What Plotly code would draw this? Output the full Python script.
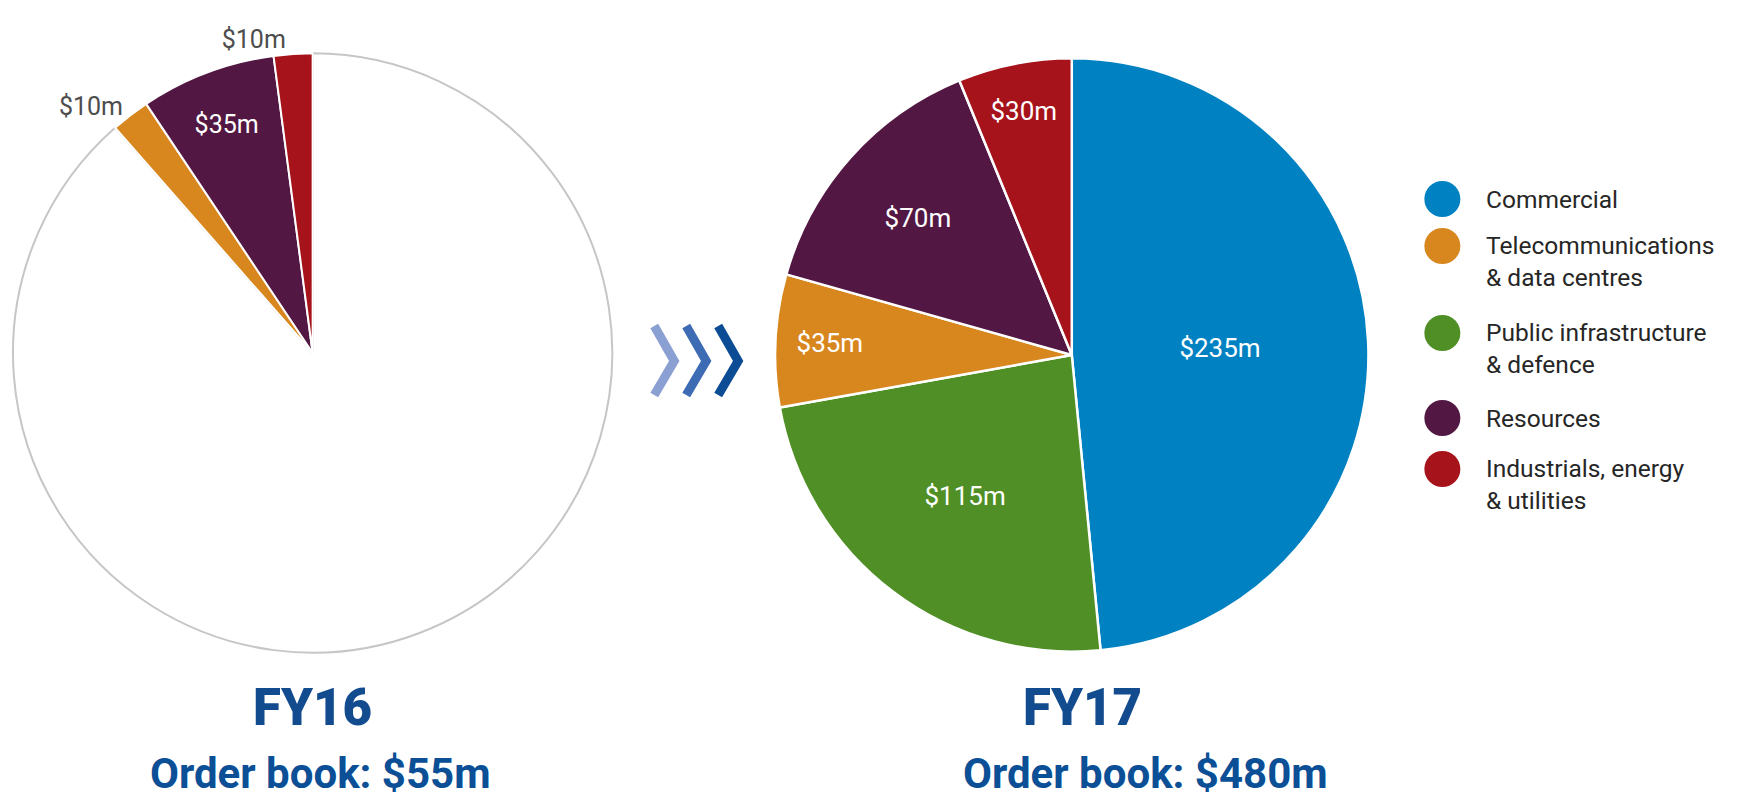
import plotly.graph_objects as go

# ---------------- data ----------------
segments = ["Commercial", "Telecommunications & data centres",
            "Public infrastructure & defence", "Resources",
            "Industrials, energy & utilities"]
legend_text = ["Commercial", "Telecommunications<br>& data centres",
               "Public infrastructure<br>& defence", "Resources",
               "Industrials, energy<br>& utilities"]
segment_colors = ["#0081c2", "#d8871f", "#4f8f25", "#521843", "#a6131b"]

fy16_labels = ["Not yet secured", "Telecommunications & data centres",
               "Resources", "Industrials, energy & utilities"]
fy16_values = [425, 10, 35, 10]
fy16_text = ["", "$10m", "$35m", "$10m"]

fy17_labels = ["Commercial", "Public infrastructure & defence",
               "Telecommunications & data centres", "Resources",
               "Industrials, energy & utilities"]
fy17_values = [235, 115, 35, 70, 30]
fy17_text = ["$235m", "$115m", "$35m", "$70m", "$30m"]

year_titles = ["FY16", "FY17"]
order_book = ["Order book: $55m", "Order book: $480m"]

# ---------------- style ----------------
W, H = 1740, 798
OFF = 8  # page body margin compensation
color_map = dict(zip(segments, segment_colors))
color_map["Not yet secured"] = "#ffffff"
label_font = "Roboto, 'Noto Sans', sans-serif"
title_font = "Roboto, 'Liberation Sans', sans-serif"
navy = "#124b8e"


def dom(cx, cy, r):
    cx -= OFF
    cy -= OFF
    return dict(x=[(cx - r) / W, (cx + r) / W],
                y=[1 - (cy + r) / H, 1 - (cy - r) / H])


fig = go.Figure()

fig.add_trace(go.Pie(
    labels=fy16_labels, values=fy16_values, text=fy16_text,
    textinfo="text", textposition=["none", "outside", "inside", "outside"],
    sort=False, direction="clockwise", rotation=0,
    marker=dict(colors=[color_map[l] for l in fy16_labels],
                line=dict(color=["#c6c6c6", "white", "white", "white"],
                          width=[2, 2, 2, 2])),
    insidetextorientation="horizontal",
    insidetextfont=dict(color="white", size=25, family=label_font),
    outsidetextfont=dict(color="#4d4d4d", size=25, family=label_font),
    domain=dom(311, 353, 300), showlegend=False, hoverinfo="label+value",
))

fig.add_trace(go.Pie(
    labels=fy17_labels, values=fy17_values, text=fy17_text,
    textinfo="text", textposition="inside",
    sort=False, direction="clockwise", rotation=0,
    marker=dict(colors=[color_map[l] for l in fy17_labels],
                line=dict(color="white", width=2.5)),
    insidetextorientation="horizontal",
    insidetextfont=dict(color="white", size=26, family=label_font),
    domain=dom(1071, 355, 297), showlegend=False, hoverinfo="label+value",
))

# legend drawn as a marker column on a hidden pixel-scaled axis
legend_x = 1442
legend_y = [199, 246, 333, 418, 469]
fig.add_trace(go.Scatter(
    x=[legend_x] * len(segments), y=legend_y, mode="markers",
    marker=dict(size=36, color=segment_colors, line=dict(width=0)),
    showlegend=False, hovertext=segments, hoverinfo="text",
))

annotations = []
fs = 24.5
lh = 1.3 * fs
for txt, y in zip(legend_text, legend_y):
    n = txt.count("<br>") + 1
    annotations.append(dict(
        x=1484, y=y + (n - 1) * lh / 2, xref="x", yref="y",
        text=txt, showarrow=False, xanchor="left", yanchor="middle",
        align="left", font=dict(size=fs, color="#262626", family=label_font)))

for title, ob, cx, ocx in zip(year_titles, order_book, [311, 1082], [319, 1145]):
    annotations.append(dict(
        x=cx, y=707, xref="x", yref="y", text=title,
        showarrow=False, xanchor="center", yanchor="middle",
        font=dict(size=51, color=navy, family=title_font, weight=900)))
    annotations.append(dict(
        x=ocx, y=773, xref="x", yref="y", text=ob,
        showarrow=False, xanchor="center", yanchor="middle",
        font=dict(size=42, color="#0b4f96", family=title_font, weight=700)))

# chevrons between the pies
shapes = []
for x0, col in zip([653, 685, 717], ["#8a9fd2", "#3d6bb4", "#0c4c95"]):
    shapes.append(dict(
        type="path", xref="x", yref="y",
        path=f"M{x0},{326} L{x0 + 20},{361} L{x0},{395}",
        line=dict(color=col, width=9)))

fig.update_layout(
    width=W, height=H, margin=dict(l=0, r=0, t=0, b=0),
    paper_bgcolor="white", plot_bgcolor="rgba(0,0,0,0)",
    xaxis=dict(range=[OFF, W + OFF], visible=False, domain=[0, 1], fixedrange=True),
    yaxis=dict(range=[H + OFF, OFF], visible=False, domain=[0, 1], fixedrange=True),
    annotations=annotations, shapes=shapes,
)

fig.write_html("out.html")
